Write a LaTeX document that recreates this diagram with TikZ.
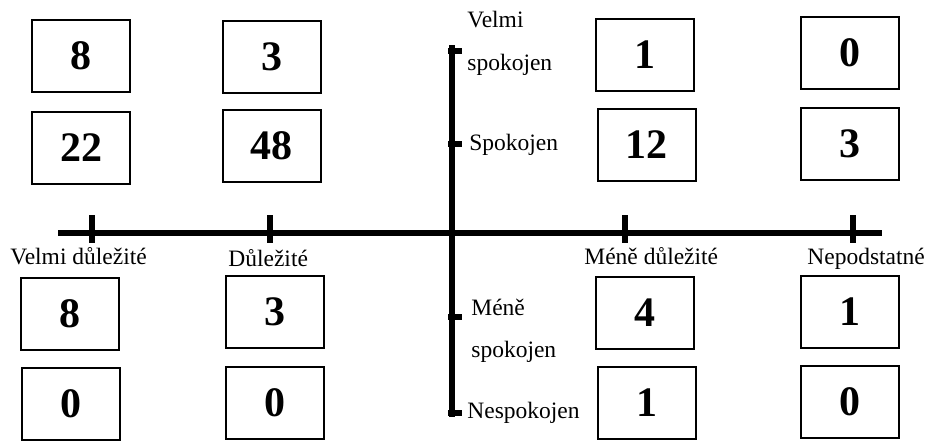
\documentclass[tikz,border=0pt]{standalone}
\usepackage{fontspec}
\setmainfont{Liberation Serif}
\usetikzlibrary{positioning,calc}
\tikzset{
    every picture/.style={line width=0.75pt},
    numbox/.style={draw, line width=2pt, minimum width=98pt, minimum height=72pt,
        inner sep=0pt, font=\fontsize{42}{50}\selectfont\bfseries},
    axisline/.style={line width=5.5pt},
    axislabel/.style={anchor=base west, inner sep=0pt, font=\fontsize{23.5}{28}\selectfont},
}

\begin{document}
\begin{tikzpicture}[x=1pt, y=-1pt]
    \useasboundingbox (0,0) rectangle (932,442);
    % axes
    \coordinate (hleft) at (58,233);
    \coordinate (hright) at (882,233);
    \coordinate (vtop) at (452,45);
    \coordinate (vbottom) at (452,417);
    \draw[axisline] (hleft) -- (hright);
    \draw[axisline] (vtop) -- (vbottom);
    % ticks on the importance axis
    \coordinate (imp1) at (92,233);
    \coordinate (imp2) at (270,233);
    \coordinate (imp3) at (625,233);
    \coordinate (imp4) at (853,233);
    \draw[axisline] ($(imp1)+(0,-18)$) -- ($(imp1)+(0,10)$);
    \draw[axisline] ($(imp2)+(0,-18)$) -- ($(imp2)+(0,10)$);
    \draw[axisline] ($(imp3)+(0,-18)$) -- ($(imp3)+(0,10)$);
    \draw[axisline] ($(imp4)+(0,-18)$) -- ($(imp4)+(0,10)$);
    % ticks on the satisfaction axis
    \coordinate (sat1) at (452,51);
    \coordinate (sat2) at (452,144);
    \coordinate (sat3) at (452,317);
    \coordinate (sat4) at (452,413);
    \draw[axisline] ($(sat1)+(-4,0)$) -- ($(sat1)+(10,0)$);
    \draw[axisline] ($(sat2)+(-4,0)$) -- ($(sat2)+(10,0)$);
    \draw[axisline] ($(sat3)+(-4,0)$) -- ($(sat3)+(10,0)$);
    \draw[axisline] ($(sat4)+(-4,0)$) -- ($(sat4)+(10,0)$);
    % axis labels
    \node[axislabel] (velmidul) at (10,264) {Velmi důležité};
    \node[axislabel] (dul) at (228,266) {Důležité};
    \node[axislabel] (menedul) at (584,264) {Méně důležité};
    \node[axislabel] (nepod) at (807,264) {Nepodstatné};
    \node[axislabel] (velmi) at (467,27) {Velmi};
    \node[axislabel] (velmispok) at (467,70) {spokojen};
    \node[axislabel] (spok) at (469,150) {Spokojen};
    \node[axislabel] (mene) at (471,315) {Méně};
    \node[axislabel] (menespok) at (471,357) {spokojen};
    \node[axislabel] (nespok) at (467,418) {Nespokojen};
    % counts
    \node[numbox] (a1) at (81,56) {8};
    \node[numbox] (b1) at (271.5,57) {3};
    \node[numbox] (c1) at (645,55) {1};
    \node[numbox] (d1) at (850,53) {0};
    \node[numbox] (a2) at (81,148) {22};
    \node[numbox] (b2) at (271.5,146) {48};
    \node[numbox] (c2) at (646.5,145) {12};
    \node[numbox] (d2) at (850,144) {3};
    \node[numbox] (a3) at (69.5,314) {8};
    \node[numbox] (b3) at (275,312) {3};
    \node[numbox] (c3) at (645,313) {4};
    \node[numbox] (d3) at (850,312) {1};
    \node[numbox] (a4) at (71,404) {0};
    \node[numbox] (b4) at (275,403) {0};
    \node[numbox] (c4) at (646.5,403) {1};
    \node[numbox] (d4) at (850,402) {0};
\end{tikzpicture}
\end{document}
